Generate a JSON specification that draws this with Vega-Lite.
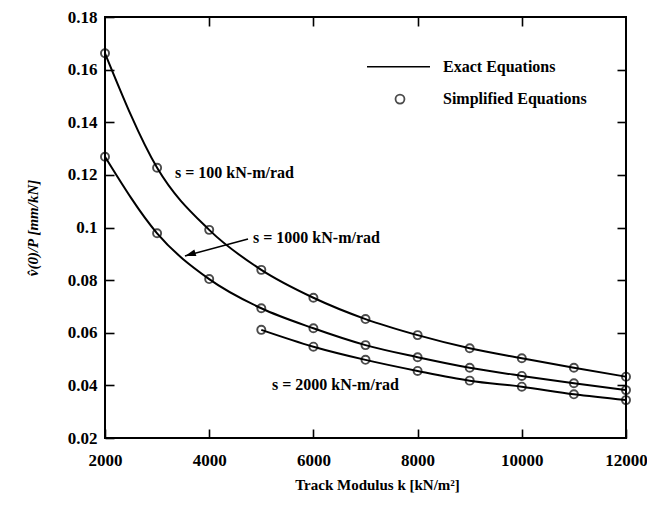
{
  "$schema": "https://vega.github.io/schema/vega-lite/v6.json",
  "width": 521,
  "height": 421,
  "autosize": {"type": "none"},
  "padding": {"left": 105, "top": 17, "right": 21, "bottom": 75},
  "background": "white",
  "config": {
    "view": {"stroke": "black", "strokeWidth": 2},
    "font": "Liberation Serif",
    "axis": {
      "grid": false,
      "domain": false,
      "tickColor": "black",
      "tickWidth": 1.6,
      "labelFont": "Liberation Serif",
      "labelFontSize": 17,
      "labelFontWeight": "bold",
      "labelColor": "black",
      "labelFlush": false,
      "titleFont": "Liberation Serif",
      "titleColor": "black"
    }
  },
  "datasets": {
    "pts": [
      {"k": 2000, "v": 0.1662, "s": "100"},
      {"k": 3000, "v": 0.1227, "s": "100"},
      {"k": 4000, "v": 0.0991, "s": "100"},
      {"k": 5000, "v": 0.0839, "s": "100"},
      {"k": 6000, "v": 0.0733, "s": "100"},
      {"k": 7000, "v": 0.0652, "s": "100"},
      {"k": 8000, "v": 0.0591, "s": "100"},
      {"k": 9000, "v": 0.0541, "s": "100"},
      {"k": 10000, "v": 0.0503, "s": "100"},
      {"k": 11000, "v": 0.0467, "s": "100"},
      {"k": 12000, "v": 0.0433, "s": "100"},
      {"k": 2000, "v": 0.1269, "s": "1000"},
      {"k": 3000, "v": 0.0978, "s": "1000"},
      {"k": 4000, "v": 0.0804, "s": "1000"},
      {"k": 5000, "v": 0.0693, "s": "1000"},
      {"k": 6000, "v": 0.0617, "s": "1000"},
      {"k": 7000, "v": 0.0553, "s": "1000"},
      {"k": 8000, "v": 0.0507, "s": "1000"},
      {"k": 9000, "v": 0.0467, "s": "1000"},
      {"k": 10000, "v": 0.0436, "s": "1000"},
      {"k": 11000, "v": 0.0408, "s": "1000"},
      {"k": 12000, "v": 0.0382, "s": "1000"},
      {"k": 5000, "v": 0.0611, "s": "2000"},
      {"k": 6000, "v": 0.0547, "s": "2000"},
      {"k": 7000, "v": 0.0497, "s": "2000"},
      {"k": 8000, "v": 0.0455, "s": "2000"},
      {"k": 9000, "v": 0.0418, "s": "2000"},
      {"k": 10000, "v": 0.0395, "s": "2000"},
      {"k": 11000, "v": 0.0366, "s": "2000"},
      {"k": 12000, "v": 0.0344, "s": "2000"}
    ],
    "ann": [
      {"k": 3344, "v": 0.1207, "label": "s = 100 kN-m/rad"},
      {"k": 4841, "v": 0.0960, "label": "s = 1000 kN-m/rad"},
      {"k": 5205, "v": 0.0401, "label": "s = 2000 kN-m/rad"},
      {"k": 8488, "v": 0.1611, "label": "Exact Equations"},
      {"k": 8488, "v": 0.1488, "label": "Simplified Equations"}
    ],
    "legline": [{"k": 7029, "k2": 8238, "v": 0.1611}],
    "legpt": [{"k": 7662, "v": 0.1488}],
    "arrow": [{"k": 4745, "k2": 3535, "v": 0.0956, "v2": 0.0892}]
  },
  "layer": [
    {
      "data": {"name": "pts"},
      "mark": {"type": "line", "interpolate": "monotone", "color": "black", "strokeWidth": 2},
      "encoding": {
        "x": {
          "field": "k", "type": "quantitative",
          "scale": {"domain": [2000, 12000], "nice": false},
          "axis": {
            "orient": "bottom",
            "values": [2000, 4000, 6000, 8000, 10000, 12000],
            "format": "d",
            "tickSize": -9,
            "labelPadding": 23,
            "title": "Track Modulus k [kN/m²]",
            "titleFontSize": 15,
            "titleFontWeight": "bold",
            "titlePadding": 9,
            "titleX": 272
          }
        },
        "y": {
          "field": "v", "type": "quantitative",
          "scale": {"domain": [0.02, 0.18], "nice": false, "zero": false},
          "axis": {
            "orient": "left",
            "values": [0.02, 0.04, 0.06, 0.08, 0.1, 0.12, 0.14, 0.16, 0.18],
            "format": "~g",
            "tickSize": -9,
            "labelPadding": 17,
            "title": "v\u0302(0)/P [mm/kN]",
            "titleFontSize": 15,
            "titleFontWeight": "bold",
            "titleFontStyle": "italic",
            "titlePadding": 27
          }
        },
        "detail": {"field": "s"}
      }
    },
    {
      "data": {"name": "pts"},
      "mark": {"type": "point", "shape": "circle", "filled": false, "color": "black", "size": 65, "strokeWidth": 1.9},
      "encoding": {
        "x": {
          "field": "k", "type": "quantitative",
          "axis": {"orient": "top", "values": [4000, 6000, 8000, 10000], "tickSize": -9, "labels": false, "title": null}
        },
        "y": {
          "field": "v", "type": "quantitative",
          "axis": {"orient": "right", "values": [0.04, 0.06, 0.08, 0.1, 0.12, 0.14, 0.16], "tickSize": -9, "labels": false, "title": null}
        }
      }
    },
    {
      "data": {"name": "ann"},
      "mark": {"type": "text", "align": "left", "baseline": "middle", "font": "Liberation Serif", "fontSize": 16, "fontWeight": "bold", "color": "black"},
      "encoding": {
        "x": {"field": "k", "type": "quantitative", "axis": null},
        "y": {"field": "v", "type": "quantitative", "axis": null},
        "text": {"field": "label"}
      }
    },
    {
      "data": {"name": "legline"},
      "mark": {"type": "rule", "color": "black", "strokeWidth": 1.5},
      "encoding": {
        "x": {"field": "k", "type": "quantitative", "axis": null},
        "x2": {"field": "k2"},
        "y": {"field": "v", "type": "quantitative", "axis": null}
      }
    },
    {
      "data": {"name": "legpt"},
      "mark": {"type": "point", "shape": "circle", "filled": false, "color": "black", "size": 80, "strokeWidth": 1.8},
      "encoding": {
        "x": {"field": "k", "type": "quantitative", "axis": null},
        "y": {"field": "v", "type": "quantitative", "axis": null}
      }
    },
    {
      "data": {"name": "arrow"},
      "mark": {"type": "rule", "color": "black", "strokeWidth": 1.6},
      "encoding": {
        "x": {"field": "k", "type": "quantitative", "axis": null},
        "x2": {"field": "k2"},
        "y": {"field": "v", "type": "quantitative", "axis": null},
        "y2": {"field": "v2"}
      }
    },
    {
      "data": {"name": "arrow"},
      "mark": {"type": "point", "shape": "M0,0L-0.45,1.4L0.45,1.4Z", "filled": true, "color": "black", "size": 240, "angle": 253, "opacity": 1},
      "encoding": {
        "x": {"field": "k2", "type": "quantitative", "axis": null},
        "y": {"field": "v2", "type": "quantitative", "axis": null}
      }
    }
  ],
  "resolve": {"axis": {"x": "independent", "y": "independent"}}
}
